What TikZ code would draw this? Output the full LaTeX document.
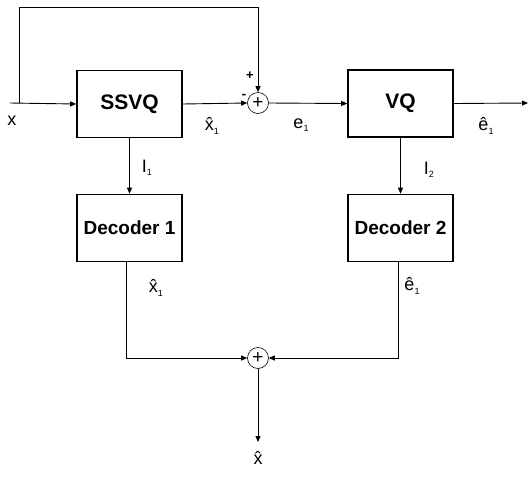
\documentclass[tikz,border=0pt]{standalone}
\usepackage{fontspec}
\setmainfont{Liberation Sans}
\usetikzlibrary{arrows.meta}

\newcommand{\hatted}[1]{#1^^^^0302}
\newcommand{\sub}[1]{\raisebox{-0.35ex}{\fontsize{9}{9}\selectfont#1}}

\begin{document}
\begin{tikzpicture}[x=1pt,y=-1pt,line width=.9pt,
  block/.style={draw,line width=1.6pt,minimum width=105pt,minimum height=67pt,
    font=\fontsize{19}{19}\selectfont\bfseries},
  sum/.style={draw,circle,line width=.6pt,minimum size=21pt,inner sep=0pt,
    font=\fontsize{19}{19}\selectfont},
  lbl/.style={inner sep=0pt,font=\fontsize{18}{18}\selectfont},
  arr/.style={-{Triangle[length=6pt,width=5pt]}}]
  \useasboundingbox (0,0) rectangle (531,480);

  % blocks
  \node[block,font=\fontsize{21}{21}\selectfont\bfseries] (ssvq) at (129.5,104) {SSVQ};
  \node[block,font=\fontsize{21}{21}\selectfont\bfseries] (vq)   at (400.5,103.5) {VQ};
  \node[block] (dec1) at (129.5,228) {Decoder 1};
  \node[block] (dec2) at (400.5,228) {Decoder 2};
  \node[sum] (sum1) at (258,103) {+};
  \node[sum] (sum2) at (258,358) {+};

  \coordinate (in)  at (10,103);
  \coordinate (br)  at (19,103);
  \coordinate (tl)  at (19,7);
  \coordinate (out) at (528,103);
  \coordinate (res) at (258,442);

  % connectors
  \draw[arr] (in) -- (ssvq.west);
  \draw[arr] (br) -- (tl) -| (sum1.north);
  \draw[arr] (ssvq.east) -- (sum1.west);
  \draw[arr] (sum1.east) -- (vq.west);
  \draw[arr] (vq.east) -- (out);
  \draw[arr] (ssvq.south) -- (dec1.north);
  \draw[arr] (vq.south) -- (dec2.north);
  \draw[arr] ([xshift=-3pt]dec1.south) |- (sum2.west);
  \draw[arr] ([xshift=-2pt]dec2.south) |- (sum2.east);
  \draw[arr] (sum2.south) -- (res);

  % labels
  \node[lbl] (lx)    at (12,121) {x};
  \node[lbl,font=\fontsize{13}{13}\selectfont\bfseries] (lplus) at (250,76) {+};
  \node[lbl,font=\fontsize{13}{13}\selectfont\bfseries] (lminus) at (244,96) {-};
  \node[lbl] (lxh1)  at (212,126) {\hatted{x}\sub{1}};
  \node[lbl] (le1)   at (301,125) {e\sub{1}};
  \node[lbl] (leh1)  at (486,126) {\hatted{e}\sub{1}};
  \node[lbl] (li1)   at (147,168) {I\sub{1}};
  \node[lbl] (li2)   at (429,170) {I\sub{2}};
  \node[lbl] (lxh1b) at (156,288) {\hatted{x}\sub{1}};
  \node[lbl] (leh1b) at (412,286) {\hatted{e}\sub{1}};
  \node[lbl] (lxh)   at (258,458) {\hatted{x}};
\end{tikzpicture}
\end{document}
